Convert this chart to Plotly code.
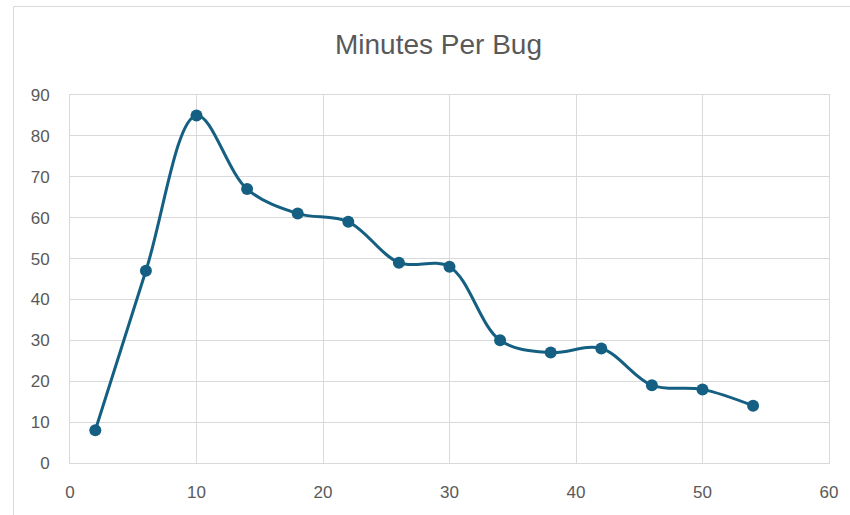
import plotly.graph_objects as go

# Data
x_vals = [2, 6, 10, 14, 18, 22, 26, 30, 34, 38, 42, 46, 50, 54]
minutes_per_bug = [8, 47, 85, 67, 61, 59, 49, 48, 30, 27, 28, 19, 18, 14]
title_text = "Minutes Per Bug"

W, H = 850, 515
L, R, T, B = 70, 21, 95, 52
pw, ph = W - L - R, H - T - B

def px_x(p):
    return (p - L) / pw

def px_y(p):
    return (H - B - p) / ph

line_color = "#156082"
grid_color = "#d9d9d9"
text_color = "#595959"
font_family = "Liberation Sans, Arial, sans-serif"

fig = go.Figure()
fig.add_trace(go.Scatter(
    x=x_vals, y=minutes_per_bug, mode="lines+markers",
    line=dict(color=line_color, width=3, shape="spline", smoothing=1),
    marker=dict(color=line_color, size=12),
    showlegend=False, cliponaxis=False,
))

fig.update_layout(
    width=W, height=H,
    margin=dict(l=L, r=R, t=T, b=B),
    paper_bgcolor="white", plot_bgcolor="white",
    font=dict(family=font_family, color=text_color, size=16),
    title=dict(text=title_text, x=438.5 / W, xanchor="center", xref="container",
               y=1 - 44 / H, yanchor="middle", yref="container",
               font=dict(size=28, color=text_color, family=font_family)),
    xaxis=dict(range=[0, 60], dtick=10, tick0=0, showgrid=True, gridcolor=grid_color,
               gridwidth=1, zeroline=False, showline=True, linecolor=grid_color,
               linewidth=1, mirror=True, ticks="", ticklabelstandoff=14,
               tickfont=dict(size=17, color=text_color)),
    yaxis=dict(range=[0, 90], dtick=10, tick0=0, showgrid=True, gridcolor=grid_color,
               gridwidth=1, zeroline=False, showline=True, linecolor=grid_color,
               linewidth=1, mirror=True, ticks="", ticklabelstandoff=16,
               tickfont=dict(size=17, color=text_color)),
    shapes=[dict(type="rect", xref="paper", yref="paper",
                 x0=px_x(13.5), x1=px_x(880), y0=px_y(540), y1=px_y(6.5),
                 line=dict(color=grid_color, width=1), fillcolor="rgba(0,0,0,0)",
                 layer="below")],
)

fig.write_html("out.html", config={"displayModeBar": False},
               post_script="document.body.style.margin='0';")
